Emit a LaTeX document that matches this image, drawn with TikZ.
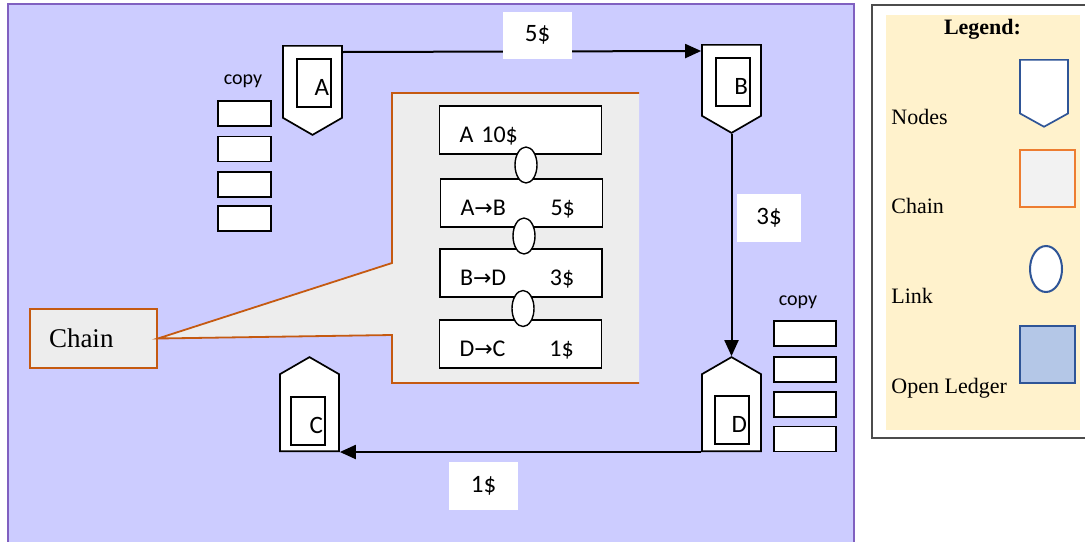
\documentclass[tikz,border=0pt]{standalone}
\usepackage{fontspec}
\setmainfont{Liberation Serif}
\newfontfamily\calib{Carlito}
\newfontfamily\arrowfont{DejaVu Sans}
\usetikzlibrary{shapes.symbols}
\usetikzlibrary{shapes.geometric}
\usetikzlibrary{positioning}
\usetikzlibrary{calc}
\usetikzlibrary{arrows.meta}
\definecolor{ledger}{RGB}{204,204,255}
\definecolor{ledgerline}{RGB}{128,96,192}
\definecolor{chainfill}{RGB}{237,237,237}
\definecolor{chainline}{RGB}{197,90,17}
\definecolor{legfill}{RGB}{255,242,204}
\definecolor{legblue}{RGB}{47,85,151}
\definecolor{legorange}{RGB}{237,125,49}
\definecolor{legledger}{RGB}{180,199,231}
\newcommand{\tx}{{\arrowfont\fontsize{11}{13}\selectfont →}}

\begin{document}
\begin{tikzpicture}[x=0.5pt, y=-0.5pt,
          peer/.style = {signal, draw, fill=white, line width=0.85pt, signal pointer angle=120, minimum width=29.5pt, inner sep=0pt},
          tag/.style = {draw, line width=0.6pt, minimum width=17pt, minimum height=24pt, inner xsep=1pt, text width=15pt, align=right, text height=12.5pt, text depth=0pt, font=\calib\fontsize{12.5}{14}\selectfont},
          flow/.style = {line width=1pt, -{Triangle[length=8pt,width=7pt]}},
          price/.style = {fill=white, minimum width=34.5pt, minimum height=23.5pt, font=\calib\fontsize{12.5}{14}\selectfont},
          slot/.style = {draw, fill=white, line width=0.8pt, minimum height=12.5pt, inner sep=0pt},
          blk/.style = {draw, fill=white, line width=0.7pt, minimum width=81pt, minimum height=24pt, inner xsep=10pt, text width=61pt, align=left, text height=12.7pt, text depth=0pt, font=\calib\fontsize{12}{14}\selectfont},
          lnk/.style = {ellipse, draw, fill=white, line width=0.7pt, minimum width=11pt, minimum height=18pt, inner sep=0pt},
          legtxt/.style = {anchor=base west, inner sep=0pt, font=\fontsize{11}{13}\selectfont},
          copytxt/.style = {font=\calib\fontsize{10}{12}\selectfont}
        ]
        \useasboundingbox (0,0) rectangle (1085,541);

        % Open ledger
        \draw[ledgerline, fill=ledger, line width=0.9pt] (8,4) rectangle (854,560);

        % Legend
        \draw[black!70, fill=white, line width=0.6pt] (872,5) rectangle (1095,438);
        \fill[legfill] (886,15) rectangle (1080,430);
        \node[font=\bfseries\fontsize{11}{13}\selectfont] (legtitle) at (982.5,29) {Legend:};
        \node[legtxt] (kNodes) at (891,124) {Nodes};
        \node[legtxt] (kChain) at (891,213) {Chain};
        \node[legtxt] (kLink) at (891,303) {Link};
        \node[legtxt] (kLedger) at (891,393) {Open Ledger};
        \node[peer, draw=legblue, signal to=south, signal pointer angle=122, minimum width=24pt, minimum height=26.8pt, anchor=north] (kPeerBox) at (1044,59) {};
        \node[draw=legorange, fill=black!5, line width=1pt, minimum width=27.5pt, minimum height=28.5pt] (kChainBox) at (1047.5,178) {};
        \node[ellipse, draw=legblue, fill=white, line width=1pt, minimum width=16pt, minimum height=23pt] (kLinkBox) at (1046,269) {};
        \node[draw=legblue, fill=legledger, line width=1pt, minimum width=27.5pt, minimum height=28.5pt] (kLedgerBox) at (1047.5,354.5) {};

        % Chain callout
        \node[draw=chainline, fill=chainfill, line width=0.9pt, minimum width=63.5pt, minimum height=29.5pt, inner xsep=9.5pt, text width=44.5pt, align=left, font=\fontsize{13.5}{15}\selectfont] (chainlbl) at (93.5,338.5) {Chain};
        \draw[chainline, fill=chainfill, line width=0.9pt] (639,93) -- (392,93) -- (392,263) -- (chainlbl.east) -- (392,335) -- (392,383) -- (639,383);

        % Blocks and links
        \node[blk] (b1) at (520.5,130) {A 10\$};
        \node[blk] (b2) at (521.5,203) {\makebox[45pt][l]{A\tx B}5\$};
        \node[blk] (b3) at (521,273) {\makebox[45pt][l]{B\tx D}3\$};
        \node[blk] (b4) at (520.5,344) {\makebox[45pt][l]{D\tx C}1\$};
        \node[lnk] (k1) at (526,165) {};
        \node[lnk] (k2) at (524,236) {};
        \node[lnk] (k3) at (523,308.5) {};

        % Nodes
        \node[peer, signal to=south, minimum height=36pt, anchor=north] (A) at (312.5,45) {};
        \node[peer, signal to=south, minimum height=35.5pt, anchor=north] (B) at (731.5,44) {};
        \node[peer, signal to=north, minimum height=38.5pt, anchor=south] (C) at (309.5,452) {};
        \node[peer, signal to=north, minimum height=38.5pt, anchor=south] (D) at (731.5,452) {};
        \node[tag] (Atag) at (314,83) {A};
        \node[tag] (Btag) at (733,82) {B};
        \node[tag] (Ctag) at (308,421) {C};
        \node[tag] (Dtag) at (732,420) {D};

        % Copies
        \node[copytxt] (copyL) at (243,81) {copy};
        \foreach \y [count=\i] in {113.5,149,184.5,218.5}
          \node[slot, minimum width=26.5pt] (cl\i) at (244.5,\y) {};
        \node[copytxt] (copyR) at (798,302) {copy};
        \foreach \y [count=\i] in {333.5,369.5,404.5,439}
          \node[slot, minimum width=31pt] (cr\i) at (805,\y) {};

        % Transfers
        \draw[flow] ($(A.north -| A.east)+(0,7)$) -- ($(B.north -| B.west)+(0,7)$);
        \draw[flow] (B.south) -- (D.north);
        \draw[flow] (D.south -| D.west) -- (C.south -| C.east);
        \node[price] (pAB) at (537.5,35) {5\$};
        \node[price, minimum width=32pt, minimum height=24pt] (pBD) at (769,218) {3\$};
        \node[price, minimum height=24pt] (pDC) at (483.5,486) {1\$};

      \end{tikzpicture}
\end{document}
